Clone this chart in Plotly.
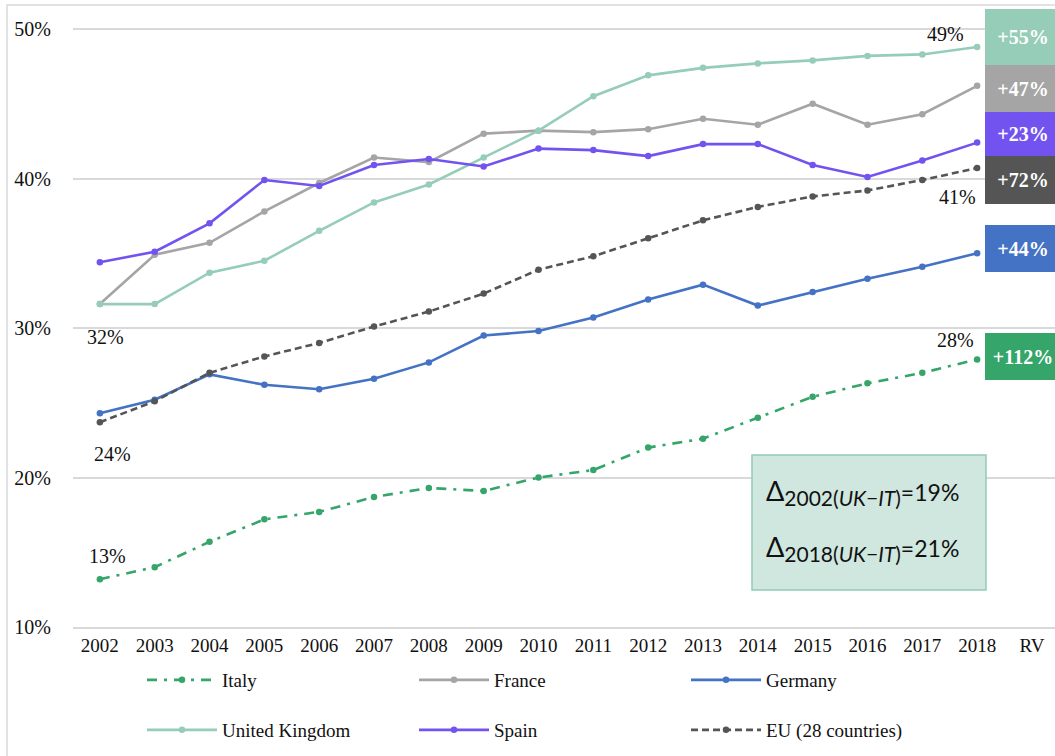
import plotly.graph_objects as go

years = [str(y) for y in range(2002, 2019)]
extra_category = "RV"

italy = [13.2, 14.0, 15.7, 17.2, 17.7, 18.7, 19.3, 19.1, 20.0, 20.5, 22.0, 22.6, 24.0, 25.4, 26.3, 27.0, 27.9]
france = [31.6, 34.9, 35.7, 37.8, 39.7, 41.4, 41.1, 43.0, 43.2, 43.1, 43.3, 44.0, 43.6, 45.0, 43.6, 44.3, 46.2]
germany = [24.3, 25.2, 26.9, 26.2, 25.9, 26.6, 27.7, 29.5, 29.8, 30.7, 31.9, 32.9, 31.5, 32.4, 33.3, 34.1, 35.0]
uk = [31.6, 31.6, 33.7, 34.5, 36.5, 38.4, 39.6, 41.4, 43.2, 45.5, 46.9, 47.4, 47.7, 47.9, 48.2, 48.3, 48.8]
spain = [34.4, 35.1, 37.0, 39.9, 39.5, 40.9, 41.3, 40.8, 42.0, 41.9, 41.5, 42.3, 42.3, 40.9, 40.1, 41.2, 42.4]
eu28 = [23.7, 25.1, 27.0, 28.1, 29.0, 30.1, 31.1, 32.3, 33.9, 34.8, 36.0, 37.2, 38.1, 38.8, 39.2, 39.9, 40.7]

growth_labels = ["+55%", "+47%", "+23%", "+72%", "+44%", "+112%"]
growth_colors = ["#96CDB8", "#A5A5A5", "#7353F0", "#555555", "#4472C4", "#35A56A"]

delta_2002 = "19%"
delta_2018 = "21%"

W, H = 1055, 756
L, R, T, B = 73, 0, 9, 129
PW, PH = W - L - R, H - T - B


def px(x):
    return (x - L) / PW


def py(y):
    return 1 - (y - T) / PH


SERIF = "Liberation Serif"
FS = 19

fig = go.Figure()

series = [
    ("Italy", italy, "#35A56A", "10px,7px,3px,7px", "legend"),
    ("France", france, "#A5A5A5", "solid", "legend"),
    ("Germany", germany, "#4472C4", "solid", "legend"),
    ("United Kingdom", uk, "#96CDB8", "solid", "legend2"),
    ("Spain", spain, "#7353F0", "solid", "legend2"),
    ("EU (28 countries)", eu28, "#555555", "7px,4px", "legend2"),
]
for name, vals, col, dash, lg in series:
    fig.add_trace(go.Scatter(
        x=years, y=vals, name=name, mode="lines+markers",
        line=dict(color=col, width=2.6, dash=dash),
        marker=dict(color=col, size=6.5),
        legend=lg,
    ))

# growth boxes on the right
box_pos = [(9, 65), (65, 112), (112, 156), (156, 204), (225, 272), (333, 380)]
for lab, col, (y0, y1) in zip(growth_labels, growth_colors, box_pos):
    fig.add_annotation(
        x=px(1023), y=py((y0 + y1) / 2), xref="paper", yref="paper",
        text=f"<b>{lab}</b>", showarrow=False,
        font=dict(family=SERIF, size=20, color="white"),
        bgcolor=col, width=76, height=y1 - y0, borderpad=0, borderwidth=0,
        xanchor="center", yanchor="middle",
    )

# data labels
dl = [
    (uk[0], 105, 337), (eu28[0], 112, 454), (italy[0], 107, 556),
    (uk[-1], 945, 34), (eu28[-1], 957, 197), (italy[-1], 955, 340),
]
for v, xx, yy in dl:
    fig.add_annotation(
        x=px(xx), y=py(yy), xref="paper", yref="paper",
        text=f"{round(v)}%", showarrow=False,
        font=dict(family=SERIF, size=20, color="#111111"),
        xanchor="center", yanchor="middle",
    )

# delta box
fig.add_shape(type="rect", xref="paper", yref="paper",
              x0=px(752), x1=px(986), y0=py(455), y1=py(590),
              fillcolor="#CFE7DE", line=dict(color="#93CBB6", width=1.5), layer="above")
sub_style = "font-size:21px"
for txt, yy in [(f"<span style='font-size:27px'>Δ</span><sub><span style='{sub_style}'>2002(<i>UK−IT</i>)</span></sub>={delta_2002}", 492),
                (f"<span style='font-size:27px'>Δ</span><sub><span style='{sub_style}'>2018(<i>UK−IT</i>)</span></sub>={delta_2018}", 548)]:
    fig.add_annotation(
        x=px(764), y=py(yy), xref="paper", yref="paper",
        text=txt, showarrow=False, xanchor="left", yanchor="middle",
        font=dict(family="Lato", size=23, color="#111111"),
    )

# outer frame
fig.add_shape(type="rect", xref="paper", yref="paper",
              x0=px(7), x1=px(1080), y0=py(5), y1=py(800),
              line=dict(color="#D9D9D9", width=1.5), fillcolor="rgba(0,0,0,0)", layer="below")

fig.update_layout(
    width=W, height=H,
    margin=dict(l=L, r=R, t=T, b=B, autoexpand=False),
    paper_bgcolor="white", plot_bgcolor="white",
    font=dict(family=SERIF, size=FS, color="#111111"),
    xaxis=dict(
        type="category", categoryorder="array", categoryarray=years + [extra_category],
        range=[-0.49, 17.42], showgrid=False, showline=True, automargin=False,
        linecolor="#D9D9D9", linewidth=1.5, ticks="", tickfont=dict(family=SERIF, size=FS),
        fixedrange=True,
    ),
    yaxis=dict(
        range=[10, 10 + PH / 14.95], dtick=10, tick0=10, ticksuffix="%",
        showgrid=True, gridcolor="#D9D9D9", gridwidth=1.5, zeroline=False,
        showline=False, ticks="", ticklabelstandoff=21, automargin=False,
        tickfont=dict(family=SERIF, size=20),
    ),
    legend=dict(
        orientation="h", x=px(142), y=py(661), xanchor="left", yanchor="top",
        xref="paper", yref="paper",
        entrywidth=187, itemwidth=70, font=dict(family=SERIF, size=FS),
        bgcolor="rgba(0,0,0,0)",
    ),
    legend2=dict(
        orientation="h", x=px(142), y=py(711), xanchor="left", yanchor="top",
        xref="paper", yref="paper",
        entrywidth=187, itemwidth=70, font=dict(family=SERIF, size=FS),
        bgcolor="rgba(0,0,0,0)",
    ),
    showlegend=True,
)

fig.write_html("out.html", config={"displayModeBar": False},
               post_script="document.body.style.margin='0';document.body.style.overflow='hidden';")
